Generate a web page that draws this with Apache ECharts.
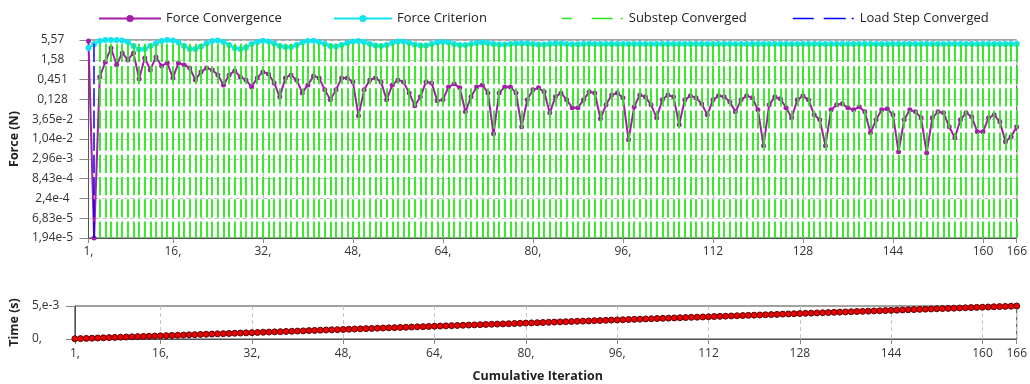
<!DOCTYPE html>
<html>
<head>
<meta charset="utf-8">
<script src="https://cdn.jsdelivr.net/npm/echarts@6/dist/echarts.min.js"></script>
<style>
  html, body { margin: 0; padding: 0; background: #fff; }
  #chart { width: 1030px; height: 384px; }
</style>
</head>
<body>
<div id="chart"></div>
<script>
// Solver convergence history: force residual vs. criterion, and time per cumulative iteration.

const forceConvergence = [
  5.2, 1.94e-5, 0.535, 1.38, 3.36, 1.14, 2.45, 1.57, 2.45, 0.472,
  1.78, 0.834, 1.90, 1.07, 1.30, 0.502, 1.30, 1.14, 0.946, 0.443,
  0.734, 0.946, 0.834, 0.607, 0.322, 0.607, 0.782, 0.535, 0.443, 0.284,
  0.502, 0.734, 0.647, 0.366, 0.151, 0.502, 0.607, 0.443, 0.194, 0.322,
  0.570, 0.502, 0.235, 0.125, 0.235, 0.502, 0.502, 0.390, 0.0453, 0.235,
  0.443, 0.502, 0.390, 0.125, 0.322, 0.443, 0.390, 0.194, 0.0853, 0.151,
  0.390, 0.366, 0.117, 0.125, 0.284, 0.344, 0.267, 0.0583, 0.151, 0.284,
  0.322, 0.194, 0.0145, 0.194, 0.284, 0.284, 0.194, 0.0226, 0.125, 0.235,
  0.267, 0.207, 0.0548, 0.151, 0.194, 0.125, 0.0752, 0.0752, 0.125, 0.207,
  0.194, 0.0375, 0.0909, 0.171, 0.194, 0.142, 0.0099, 0.0801, 0.171, 0.151,
  0.0909, 0.0399, 0.125, 0.171, 0.151, 0.0256, 0.125, 0.161, 0.142, 0.0968,
  0.0483, 0.125, 0.161, 0.151, 0.110, 0.0583, 0.125, 0.161, 0.142, 0.0662,
  0.0068, 0.0909, 0.151, 0.133, 0.0752, 0.0399, 0.125, 0.161, 0.125, 0.0483,
  0.0352, 0.0068, 0.0662, 0.0909, 0.0968, 0.0752, 0.0662, 0.0801, 0.0583, 0.0154,
  0.0352, 0.0662, 0.0706, 0.0483, 0.0046, 0.0352, 0.0662, 0.0583, 0.0399, 0.0043,
  0.0399, 0.0583, 0.0548, 0.0226, 0.0112, 0.0352, 0.0548, 0.0425, 0.0164, 0.0164,
  0.0399, 0.0483, 0.0310, 0.0087, 0.0120, 0.0226
];

const forceCriterion = [
  3.36, 4.32, 5.23, 5.57, 5.57, 5.57, 5.40, 4.91, 3.81, 3.05,
  3.15, 3.81, 4.46, 5.23, 5.57, 5.40, 4.76, 3.81, 3.15, 3.15,
  3.69, 4.46, 5.23, 5.40, 4.91, 4.06, 3.36, 3.15, 3.47, 4.32,
  4.91, 5.30, 5.07, 4.46, 3.81, 3.58, 3.58, 4.06, 4.76, 5.23,
  5.30, 4.91, 4.32, 3.81, 3.69, 4.06, 4.61, 5.07, 5.23, 4.91,
  4.32, 3.93, 3.81, 4.06, 4.61, 5.07, 5.07, 4.61, 4.19, 3.93,
  3.93, 4.32, 4.76, 4.91, 4.76, 4.32, 4.06, 4.06, 4.32, 4.61,
  4.76, 4.61, 4.32, 4.19, 4.19, 4.32, 4.46, 4.46, 4.46, 4.32,
  4.19, 4.19, 4.32, 4.46, 4.46, 4.32, 4.25, 4.25, 4.32, 4.39,
  4.32, 4.32, 4.32, 4.32, 4.32, 4.32, 4.32, 4.32, 4.32, 4.32,
  4.32, 4.32, 4.32, 4.32, 4.32, 4.32, 4.32, 4.32, 4.32, 4.32,
  4.32, 4.32, 4.32, 4.32, 4.32, 4.32, 4.32, 4.32, 4.32, 4.32,
  4.32, 4.32, 4.32, 4.32, 4.32, 4.32, 4.32, 4.32, 4.32, 4.32,
  4.32, 4.32, 4.32, 4.32, 4.32, 4.32, 4.32, 4.32, 4.32, 4.32,
  4.32, 4.32, 4.32, 4.32, 4.32, 4.32, 4.32, 4.32, 4.32, 4.32,
  4.32, 4.32, 4.32, 4.32, 4.32, 4.32, 4.32, 4.32, 4.32, 4.32,
  4.32, 4.32, 4.32, 4.32, 4.32, 4.32
];

// Time at each iteration, in milliseconds
const timeMs = [
  0.03, 0.06, 0.09, 0.12, 0.15, 0.18, 0.21, 0.24, 0.27, 0.30,
  0.33, 0.36, 0.39, 0.42, 0.45, 0.48, 0.51, 0.54, 0.57, 0.60,
  0.63, 0.66, 0.69, 0.72, 0.75, 0.78, 0.81, 0.84, 0.87, 0.90,
  0.93, 0.96, 0.99, 1.02, 1.05, 1.08, 1.11, 1.14, 1.17, 1.20,
  1.23, 1.27, 1.30, 1.33, 1.36, 1.39, 1.42, 1.45, 1.48, 1.51,
  1.54, 1.57, 1.60, 1.63, 1.66, 1.69, 1.72, 1.75, 1.78, 1.81,
  1.84, 1.87, 1.90, 1.93, 1.96, 1.99, 2.02, 2.05, 2.08, 2.11,
  2.14, 2.17, 2.20, 2.23, 2.26, 2.29, 2.32, 2.35, 2.38, 2.41,
  2.44, 2.47, 2.50, 2.53, 2.56, 2.59, 2.62, 2.65, 2.68, 2.71,
  2.74, 2.77, 2.80, 2.83, 2.86, 2.89, 2.92, 2.95, 2.98, 3.01,
  3.04, 3.07, 3.10, 3.13, 3.16, 3.19, 3.22, 3.25, 3.28, 3.31,
  3.34, 3.37, 3.40, 3.43, 3.46, 3.49, 3.52, 3.55, 3.58, 3.61,
  3.64, 3.67, 3.70, 3.73, 3.77, 3.80, 3.83, 3.86, 3.89, 3.92,
  3.95, 3.98, 4.01, 4.04, 4.07, 4.10, 4.13, 4.16, 4.19, 4.22,
  4.25, 4.28, 4.31, 4.34, 4.37, 4.40, 4.43, 4.46, 4.49, 4.52,
  4.55, 4.58, 4.61, 4.64, 4.67, 4.70, 4.73, 4.76, 4.79, 4.82,
  4.85, 4.88, 4.91, 4.94, 4.97, 5.00
];

const substepConvergedFrom = 3;   // every iteration from here on closes a substep
const substepConvergedTo = 166;
const loadStepConverged = [2];

const iterTickValues = [1, 16, 32, 48, 64, 80, 96, 112, 128, 144, 160, 166];
const iterTickLabels = ['1,', '16,', '32,', '48,', '64,', '80,', '96,', '112', '128', '144', '160', '166'];
const forceTickLabels = ['1,94e-5', '6,83e-5', '2,4e-4', '8,43e-4', '2,96e-3', '1,04e-2',
                         '3,65e-2', '0,128', '0,451', '1,58', '5,57'];
const timeTickLabels = ['0,', '5,e-3'];

// Force axis: logarithmic, equal steps of ratio FORCE_STEP from FORCE_MIN to FORCE_MAX
const FORCE_MIN = 1.94e-5;
const FORCE_MAX = 5.57;
const FORCE_STEPS = forceTickLabels.length - 1;
const FORCE_STEP = Math.pow(FORCE_MAX / FORCE_MIN, 1 / FORCE_STEPS);
const logPos = v => Math.log(v / FORCE_MIN) / Math.log(FORCE_STEP);

const iterations = forceConvergence.map((_, i) => i + 1);
const substepIters = [];
for (let k = substepConvergedFrom; k <= substepConvergedTo; k++) substepIters.push(k);

const FONT = "'Open Sans', 'Noto Sans', sans-serif";
const PURPLE = '#a21fa8';
const CYAN = '#12e4ee';
const GREEN = '#27e81a';
const BLUE = '#0000ff';
const GRID_DASH = { color: '#c4c4c4', width: 1, type: [4, 3] };
const EVENT_DASH = [18.2, 4];
const HIDDEN = { color: 'rgba(0,0,0,0)', borderWidth: 0 };
const legendText = { fontSize: 13, color: '#222', fontFamily: FONT };

const chart = echarts.init(document.getElementById('chart'), null, { renderer: 'canvas' });

const xAxisBase = {
  type: 'value',
  min: 1,
  max: 166,
  axisLine: { show: true, lineStyle: { color: '#555', width: 1 } },
  axisTick: { show: true, length: 5, lineStyle: { color: '#888' }, customValues: iterTickValues },
  axisLabel: {
    customValues: iterTickValues,
    color: '#333', fontFamily: FONT, fontSize: 12, margin: 8,
    formatter: v => iterTickLabels[iterTickValues.indexOf(v)]
  },
  splitLine: { show: true, lineStyle: GRID_DASH }
};

chart.setOption({
  animation: false,
  textStyle: { fontFamily: FONT },
  legend: [
    { data: ['Force Convergence'], left: 98, top: 12, padding: 0, itemWidth: 62, itemHeight: 9, textStyle: legendText },
    { data: ['Force Criterion'], left: 333, top: 12, padding: 0, itemWidth: 58, itemHeight: 9, textStyle: legendText },
    { data: [{ name: 'Substep Converged', itemStyle: HIDDEN, lineStyle: { color: GREEN, width: 1.5, type: [10, 20, 21, 8, 2, 40] } }],
      left: 561, top: 12, padding: 0, itemWidth: 62, itemHeight: 9, textStyle: legendText },
    { data: [{ name: 'Load Step Converged', itemStyle: HIDDEN, lineStyle: { color: BLUE, width: 1.5, type: [21, 10, 22, 6, 2, 40] } }],
      left: 792, top: 12, padding: 0, itemWidth: 62, itemHeight: 9, textStyle: legendText }
  ],
  grid: [
    { left: 87, right: 13, top: 40, height: 198, show: true, borderColor: '#444', borderWidth: 1, backgroundColor: 'transparent' },
    { left: 73, right: 13, top: 306, height: 35, show: true, borderColor: '#444', borderWidth: 1, backgroundColor: 'transparent' }
  ],
  xAxis: [
    Object.assign({ gridIndex: 0 }, xAxisBase),
    Object.assign({ gridIndex: 1 }, xAxisBase, {
      name: 'Cumulative Iteration',
      nameLocation: 'middle',
      nameGap: 31,
      nameTextStyle: { fontWeight: 'bold', fontSize: 12.5, color: '#222', fontFamily: FONT, padding: [0, 16, 0, 0] },
      axisLabel: Object.assign({}, xAxisBase.axisLabel, { margin: 9 })
    })
  ],
  yAxis: [
    {
      gridIndex: 0, type: 'value', min: 0, max: FORCE_STEPS, interval: 1,
      name: 'Force (N)', nameLocation: 'middle', nameGap: 57, nameRotate: 90,
      nameTextStyle: { fontWeight: 'bold', fontSize: 12.5, color: '#222', fontFamily: FONT },
      axisLine: { show: true, lineStyle: { color: '#555' } },
      axisTick: { show: true, length: 9, lineStyle: { color: '#888' } },
      axisLabel: {
        color: '#333', fontFamily: FONT, fontSize: 12, margin: 36, align: 'center',
        formatter: v => forceTickLabels[Math.round(v)]
      },
      splitLine: { show: true, lineStyle: GRID_DASH }
    },
    {
      gridIndex: 1, type: 'value', min: 0, max: 5e-3, interval: 5e-3,
      name: 'Time (s)', nameLocation: 'middle', nameGap: 45, nameRotate: 90,
      nameTextStyle: { fontWeight: 'bold', fontSize: 12.5, color: '#222', fontFamily: FONT },
      axisLine: { show: true, lineStyle: { color: '#555' } },
      axisTick: { show: true, length: 9, lineStyle: { color: '#888' } },
      axisLabel: {
        color: '#333', fontFamily: FONT, fontSize: 12, margin: 43, align: 'left',
        formatter: v => timeTickLabels[Math.round(v / 5e-3)]
      },
      splitLine: { show: false }
    }
  ],
  series: [
    {
      name: 'Substep Converged', type: 'line', xAxisIndex: 0, yAxisIndex: 0, data: [],
      symbol: 'none', z: 1,
      itemStyle: { color: GREEN },
      lineStyle: { color: GREEN, width: 1.5 },
      markLine: {
        silent: true, symbol: ['none', 'none'], label: { show: false },
        lineStyle: { color: GREEN, width: 1.8, type: EVENT_DASH, dashOffset: 1.6 },
        emphasis: { disabled: true },
        data: substepIters.map(k => ({ xAxis: k }))
      }
    },
    {
      name: 'Load Step Converged', type: 'line', xAxisIndex: 0, yAxisIndex: 0, data: [],
      symbol: 'none', z: 2,
      itemStyle: { color: BLUE },
      lineStyle: { color: BLUE, width: 1.5 },
      markLine: {
        silent: true, symbol: ['none', 'none'], label: { show: false },
        lineStyle: { color: BLUE, width: 1.5, type: EVENT_DASH, dashOffset: 1.6 },
        emphasis: { disabled: true },
        data: loadStepConverged.map(k => ({ xAxis: k }))
      }
    },
    {
      name: 'Force Convergence', type: 'line', xAxisIndex: 0, yAxisIndex: 0, z: 3,
      data: forceConvergence.map((v, i) => [iterations[i], logPos(v)]),
      symbol: 'circle', symbolSize: 5, showSymbol: true,
      itemStyle: { color: PURPLE },
      lineStyle: { color: PURPLE, width: 2 }
    },
    {
      name: 'Force Criterion', type: 'line', xAxisIndex: 0, yAxisIndex: 0, z: 4,
      data: forceCriterion.map((v, i) => [iterations[i], logPos(v)]),
      symbol: 'circle', symbolSize: 6, showSymbol: true,
      itemStyle: { color: CYAN },
      lineStyle: { color: CYAN, width: 2 }
    },
    {
      name: 'Time', type: 'line', xAxisIndex: 1, yAxisIndex: 1, z: 3,
      data: timeMs.map((v, i) => [iterations[i], v / 1000]),
      symbol: 'circle', symbolSize: 6, showSymbol: true,
      itemStyle: { color: '#ee0000', borderColor: '#5a0000', borderWidth: 1 },
      lineStyle: { color: '#8b0000', width: 1.5 }
    }
  ]
});
</script>
</body>
</html>
